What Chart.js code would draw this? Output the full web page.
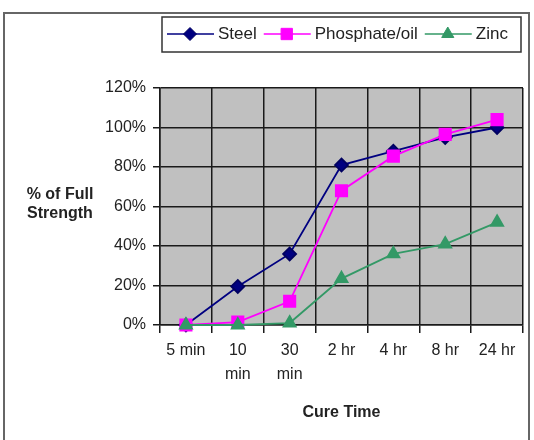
<!DOCTYPE html>
<html>
<head>
<meta charset="utf-8">
<script src="https://cdn.jsdelivr.net/npm/chart.js@4.4.1/dist/chart.umd.min.js"></script>
<style>
  html, body { margin: 0; padding: 0; background: #fff; }
  #contenedor { width: 534px; height: 440px; }
</style>
</head>
<body>
<div id="contenedor"><canvas id="graficoCurado" width="534" height="440"></canvas></div>
<script>
// datos
const tiempos = [["5 min"], ["10", "min"], ["30", "min"], "2 hr", "4 hr", "8 hr", "24 hr"];
const acero = [0, 19.5, 36, 81, 88, 95, 100];
const fosfato = [0, 1.5, 12, 68, 85.5, 96.5, 104];
const zinc = [0, 0, 1, 23.5, 36, 41, 52];
const marcasY = [0, 20, 40, 60, 80, 100, 120];
const tituloY = ["% of Full", "Strength"];
const tituloX = "Cure Time";

const fuente = "'Liberation Sans', Arial, sans-serif";

// fondo blanco, marco exterior y area gris
const fondo = {
  id: "fondo",
  beforeDraw(chart) {
    const ctx = chart.ctx;
    const a = chart.chartArea;
    ctx.save();
    ctx.fillStyle = "#fff";
    ctx.fillRect(0, 0, chart.width, chart.height);
    ctx.strokeStyle = "#666";
    ctx.lineWidth = 2;
    ctx.strokeRect(4, 13, 525, 440);
    ctx.fillStyle = "#c0c0c0";
    ctx.fillRect(a.left, a.top, a.right - a.left, a.bottom - a.top);
    ctx.restore();
  }
};

// leyenda con linea y marcador, y titulo del eje y horizontal
const leyenda = {
  id: "leyenda",
  afterDraw(chart) {
    const ctx = chart.ctx;
    ctx.save();
    ctx.font = "17px " + fuente;
    ctx.textBaseline = "middle";
    var x = 167;
    var y = 34;
    var orden = chart.data.datasets.slice().sort((p, q) => q.order - p.order);
    orden.forEach((ds) => {
      ctx.strokeStyle = ds.borderColor;
      ctx.lineWidth = 1.5;
      ctx.beginPath();
      ctx.moveTo(x, y);
      ctx.lineTo(x + 47, y);
      ctx.stroke();
      ctx.fillStyle = ds.pointBackgroundColor;
      ctx.strokeStyle = ds.pointBorderColor;
      ctx.lineWidth = 1;
      Chart.helpers.drawPoint(ctx, { pointStyle: ds.pointStyle, radius: ds.pointRadius, borderWidth: 1, rotation: 0 }, x + 23, y);
      ctx.fillStyle = "#222";
      ctx.textAlign = "left";
      ctx.fillText(ds.label, x + 51, y);
      x += 51 + ctx.measureText(ds.label).width + 7;
    });
    ctx.strokeStyle = "#333";
    ctx.lineWidth = 1.5;
    ctx.strokeRect(162, 17, 359, 35);

    ctx.font = "bold 16px " + fuente;
    ctx.fillStyle = "#222";
    ctx.textAlign = "center";
    ctx.fillText(tituloY[0], 60, 195);
    ctx.fillText(tituloY[1], 60, 214);
    ctx.restore();
  }
};

new Chart("graficoCurado", {
  type: "line",
  data: {
    labels: tiempos,
    datasets: [{
      label: "Steel",
      data: acero,
      borderColor: "#000080",
      pointBackgroundColor: "#000080",
      pointBorderColor: "#000060",
      pointStyle: "rectRot",
      pointRadius: 6.5,
      borderWidth: 1.8,
      clip: false,
      order: 3
    }, {
      label: "Phosphate/oil",
      data: fosfato,
      borderColor: "#ff00ff",
      pointBackgroundColor: "#ff00ff",
      pointBorderColor: "#ff00ff",
      pointStyle: "rect",
      pointRadius: 8,
      borderWidth: 1.8,
      clip: false,
      order: 2
    }, {
      label: "Zinc",
      data: zinc,
      borderColor: "#339966",
      pointBackgroundColor: "#339966",
      pointBorderColor: "#339966",
      pointStyle: "triangle",
      pointRadius: 7,
      borderWidth: 1.8,
      clip: false,
      order: 1
    }]
  },
  options: {
    responsive: false,
    devicePixelRatio: 1,
    animation: false,
    layout: { padding: { top: 88, right: 11, bottom: 0, left: 0 } },
    plugins: {
      legend: { display: false },
      tooltip: { enabled: false }
    },
    elements: { line: { tension: 0 } },
    scales: {
      x: {
        offset: true,
        grid: { offset: true, color: "#1a1a1a", lineWidth: 1.5, tickLength: 8, tickColor: "#1a1a1a" },
        border: { color: "#1a1a1a", width: 1.5 },
        ticks: {
          color: "#222",
          font: { family: fuente, size: 16, lineHeight: 1.5 },
          maxRotation: 0,
          autoSkip: false,
          padding: 6
        },
        title: {
          display: true,
          text: tituloX,
          color: "#222",
          font: { family: fuente, size: 16, weight: "bold" },
          padding: { top: 0, bottom: 18 }
        },
        afterFit(scale) { scale.height = 115; }
      },
      y: {
        min: 0,
        max: 120,
        afterBuildTicks(scale) { scale.ticks = marcasY.map((v) => ({ value: v })); },
        grid: { color: "#1a1a1a", lineWidth: 1.5, tickLength: 7, tickColor: "#1a1a1a" },
        border: { color: "#1a1a1a", width: 1.5 },
        ticks: {
          color: "#222",
          font: { family: fuente, size: 16 },
          padding: 7,
          callback: (v) => v + "%"
        },
        afterFit(scale) { scale.width = 160; }
      }
    }
  },
  plugins: [fondo, leyenda]
});
</script>
</body>
</html>
